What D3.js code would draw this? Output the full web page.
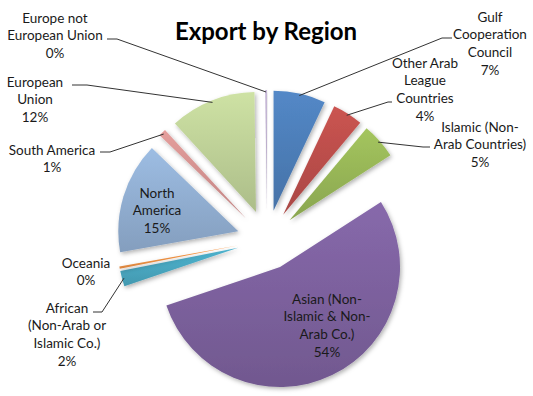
<!DOCTYPE html>
<html>
<head>
<meta charset="utf-8">
<script src="https://cdn.jsdelivr.net/npm/d3@7"></script>
<style>
  body { margin: 0; background: #fff; }
  text { font-family: Lato, "Open Sans", sans-serif; }
</style>
</head>
<body>
<div id="chart"></div>
<script>
// data (percent of exports)
const regions = ["Gulf Cooperation Council", "Other Arab League Countries", "Islamic (Non-Arab Countries)",
  "Asian (Non-Islamic & Non-Arab Co.)", "African (Non-Arab or Islamic Co.)", "Oceania",
  "North America", "South America", "European Union", "Europe not European Union"];
const shares = [7.0, 4.1, 4.8, 53.9, 2.1, 0.3, 15.0, 1.0, 11.6, 0.2];
const colors = ["#4F81BD", "#C0504D", "#9BBB59", "#8064A2", "#4BACC6", "#F79646",
  "#95B3D7", "#D99694", "#C3D69B", "#B3A2C7"];
const labelLines = [
  ["Gulf", "Cooperation", "Council"],
  ["Other Arab", "League", "Countries"],
  ["Islamic (Non-", "Arab Countries)"],
  ["Asian (Non-", "Islamic & Non-", "Arab Co.)"],
  ["African", "(Non-Arab or", "Islamic Co.)"],
  ["Oceania"],
  ["North", "America"],
  ["South America"],
  ["European", "Union"],
  ["Europe not", "European Union"]
];

// label layout: text centre / first line y, leader elbow and end
const labelPos = [
  { x: 490, y: 17, elbow: [442, 38], end: [452, 38] },
  { x: 425, y: 63, elbow: [388, 102], end: [392, 102] },
  { x: 480, y: 127, elbow: [423, 147], end: [430, 147] },
  { x: 327, y: 299 },
  { x: 67, y: 308, elbow: [102, 312], end: [93, 312] },
  { x: 86, y: 263 },
  { x: 157, y: 193 },
  { x: 52, y: 150, elbow: [110, 152], end: [100, 152] },
  { x: 35, y: 82, elbow: [87, 85], end: [72, 85] },
  { x: 55, y: 18, elbow: [117, 39], end: [107, 39] }
];

const width = 533, height = 396;
const cx = 267, cy = 240, radius = 120, explode = 30;
const lineH = 17.7;

const svg = d3.select("#chart").append("svg")
  .attr("width", width)
  .attr("height", height);

const defs = svg.append("defs");

const shadow = defs.append("filter")
  .attr("id", "shadow")
  .attr("x", "-20%").attr("y", "-20%")
  .attr("width", "140%").attr("height", "140%");
shadow.append("feDropShadow")
  .attr("dx", 1.5).attr("dy", 2)
  .attr("stdDeviation", 2)
  .attr("flood-color", "#000")
  .attr("flood-opacity", 0.3);

colors.forEach((c, i) => {
  const g = defs.append("linearGradient")
    .attr("id", "grad" + i)
    .attr("x1", 0).attr("y1", 0).attr("x2", 0).attr("y2", 1);
  g.append("stop").attr("offset", "0%").attr("stop-color", d3.color(c).brighter(0.15));
  g.append("stop").attr("offset", "100%").attr("stop-color", d3.color(c).darker(0.35));
});

const pie = d3.pie().sort(null).value(d => d);
const arcs = pie(shares);
const arc = d3.arc().innerRadius(0).outerRadius(radius);

function offset(d) {
  const mid = (d.startAngle + d.endAngle) / 2;
  return [cx + Math.sin(mid) * explode, cy - Math.cos(mid) * explode];
}

const slices = svg.append("g").attr("class", "slices");

slices.selectAll("path")
  .data(arcs)
  .join("path")
  .attr("transform", d => `translate(${offset(d)})`)
  .attr("d", arc)
  .attr("fill", (d, i) => `url(#grad${i})`)
  .attr("filter", "url(#shadow)");

// leader lines
const leaders = svg.append("g")
  .attr("fill", "none")
  .attr("stroke", "#333")
  .attr("stroke-width", 1);

arcs.forEach((d, i) => {
  const p = labelPos[i];
  if (!p.elbow) return;
  const mid = (d.startAngle + d.endAngle) / 2;
  const o = offset(d);
  const start = [o[0] + Math.sin(mid) * (radius - 2), o[1] - Math.cos(mid) * (radius - 2)];
  leaders.append("path")
    .attr("d", d3.line()([start, p.elbow, p.end]));
});

// labels
const fmt = d3.format(".0f");
const labels = svg.append("g")
  .attr("text-anchor", "middle")
  .attr("font-size", "13.5px")
  .attr("fill", "#1a1a1a");

arcs.forEach((d, i) => {
  const p = labelPos[i];
  const lines = labelLines[i].concat([fmt(shares[i]) + "%"]);
  const t = labels.append("text")
    .attr("x", p.x)
    .attr("y", p.y);
  lines.forEach((l, j) => {
    t.append("tspan")
      .attr("x", p.x)
      .attr("y", p.y + j * lineH)
      .attr("dy", "0.35em")
      .text(l);
  });
});

svg.append("text")
  .attr("x", 266)
  .attr("y", 40)
  .attr("text-anchor", "middle")
  .attr("font-size", "24px")
  .attr("font-weight", "bold")
  .attr("fill", "#000")
  .text("Export by Region");
</script>
</body>
</html>
